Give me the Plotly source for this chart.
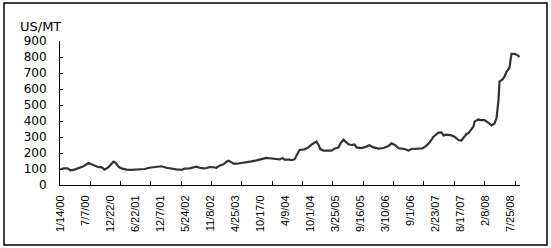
import plotly.graph_objects as go

# week index since 1/14/00 (weekly data) and price in US$/MT
week = [0, 3, 7, 10, 14, 19, 23, 28, 31, 34, 38, 41, 44, 48, 50, 53, 55, 58, 61, 66,
        71, 78, 84, 89, 94, 101, 106, 113, 116, 121, 124, 129, 133, 136, 139, 143, 146,
        149, 153, 156, 159, 163, 166, 168, 170, 173, 176, 181, 186, 191, 196, 201, 206,
        209, 214, 219, 222, 224, 229, 231, 234, 238, 239, 244, 248, 251, 254, 256, 258,
        260, 263, 268, 271, 274, 278, 280, 283, 285, 288, 291, 294, 296, 301, 306, 309,
        313, 318, 323, 328, 331, 334, 338, 339, 344, 348, 351, 356, 362, 366, 369, 373,
        375, 378, 381, 383, 386, 391, 394, 398, 401, 404, 406, 408, 411, 413, 414, 416,
        418, 419, 424, 428, 431, 434, 436, 438, 439, 442, 444, 446, 449, 450, 451, 454,
        457, 459]
price = [98, 104, 104, 92, 96, 106, 117, 137, 129, 119, 111, 112, 96, 112, 125, 146, 140,
         115, 104, 96, 94, 96, 100, 108, 111, 117, 108, 104, 98, 94, 102, 104, 108, 115,
         108, 104, 106, 112, 111, 108, 121, 129, 146, 152, 146, 133, 133, 137, 144, 148,
         154, 160, 169, 167, 165, 160, 169, 158, 158, 156, 160, 208, 219, 223, 235, 252,
         265, 271, 250, 223, 215, 217, 215, 227, 235, 260, 283, 271, 254, 250, 254, 235,
         231, 240, 248, 235, 227, 231, 244, 260, 252, 231, 229, 225, 215, 225, 227, 229,
         246, 265, 302, 310, 327, 329, 310, 315, 310, 302, 281, 278, 302, 319, 325, 345,
         365, 396, 402, 410, 406, 405, 388, 373, 385, 417, 531, 646, 660, 677, 708, 733,
         781, 819, 819, 812, 800]

label_weeks = [0, 25, 50, 75, 100, 125, 150, 175, 200, 225, 250, 275, 300, 325, 350,
               375, 400, 425, 450]
label_text = ["1/14/00", "7/7/00", "12/22/0", "6/22/01", "12/7/01", "5/24/02", "11/8/02",
              "4/25/03", "10/17/0", "4/9/04", "10/1/04", "3/25/05", "9/16/05", "3/10/06",
              "9/1/06", "2/23/07", "8/17/07", "2/8/08", "7/25/08"]
y_ticks = [0, 100, 200, 300, 400, 500, 600, 700, 800, 900]

fig = go.Figure()
fig.add_trace(go.Scatter(x=week, y=price, mode="lines",
                         line=dict(color="#333333", width=2.2), showlegend=False,
                         hoverinfo="skip"))

L, R, T, B = 60, 31, 41, 63
W, H = 551, 248
pw, ph = W - L - R, H - T - B

def px_x(px):
    return (px - L) / pw

def px_y(py):
    return (H - B - py) / ph

fig.update_layout(
    width=W, height=H,
    margin=dict(l=L, r=R, t=T, b=B, pad=0),
    paper_bgcolor="white", plot_bgcolor="white",
    font=dict(family="DejaVu Sans", color="black"),
    xaxis=dict(range=[-0.5, 459.5], tickmode="array", tickvals=label_weeks,
               ticktext=label_text, tickangle=-90, ticks="",
               tickfont=dict(family="Liberation Sans", size=11, color="black"),
               ticklabelstandoff=5,
               showline=True, linecolor="black", linewidth=1, showgrid=False,
               zeroline=False,
               minor=dict(tickmode="linear", tick0=29.5, dtick=30.36, ticks="inside",
                          ticklen=4, tickcolor="black", tickwidth=1, showgrid=False)),
    yaxis=dict(range=[0, 900], tickmode="array", tickvals=y_ticks, ticks="inside",
               ticklen=3, tickcolor="black",
               tickfont=dict(family="DejaVu Sans", size=12, color="black"),
               ticklabelstandoff=10,
               showline=True, linecolor="black", linewidth=1, showgrid=False,
               zeroline=False),
    shapes=[dict(type="rect", xref="paper", yref="paper",
                 x0=px_x(4), x1=px_x(547), y0=px_y(245), y1=px_y(3),
                 line=dict(color="black", width=1.5), fillcolor="rgba(0,0,0,0)",
                 layer="below")],
    annotations=[dict(text="US/MT", xref="paper", yref="paper", x=px_x(18),
                      y=px_y(27), xanchor="left", yanchor="middle", showarrow=False,
                      font=dict(family="DejaVu Sans", size=13, color="black"))],
)

fig.write_html("out.html")
